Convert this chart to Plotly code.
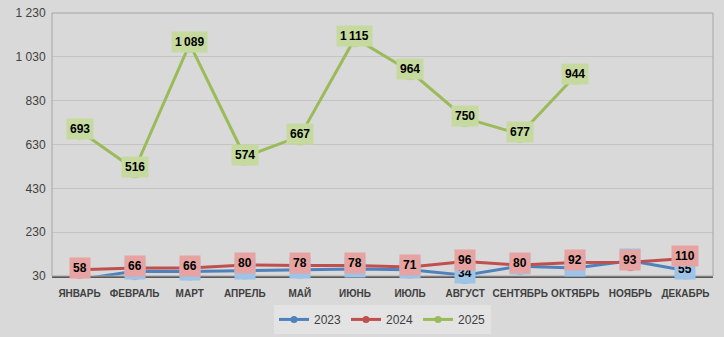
import plotly.graph_objects as go

months = ["ЯНВАРЬ", "ФЕВРАЛЬ", "МАРТ", "АПРЕЛЬ", "МАЙ", "ИЮНЬ", "ИЮЛЬ",
          "АВГУСТ", "СЕНТЯБРЬ", "ОКТЯБРЬ", "НОЯБРЬ", "ДЕКАБРЬ"]
v2023 = [14, 52, 50, 55, 58, 62, 58, 34, 75, 66, 99, 55]
v2024 = [58, 66, 66, 80, 78, 78, 71, 96, 80, 92, 93, 110]
v2025 = [693, 516, 1089, 574, 667, 1115, 964, 750, 677, 944, None, None]
ytick_vals = [30, 230, 430, 630, 830, 1030, 1230]
ytick_text = ["30", "230", "430", "630", "830", "1 030", "1 230"]

series = [
    ("2023", v2023, "#4F81BD", "#8DB4E2", "#9DC3E6"),
    ("2024", v2024, "#C0504D", "#D9807D", "#E6A3A1"),
    ("2025", v2025, "#9BBB59", "#B7CF88", "#C6DAA0"),
]

FONT = "Liberation Sans, Arial, sans-serif"
x = list(range(len(months)))
fig = go.Figure()
annotations = []
for name, vals, lc, mc, bc in series:
    fig.add_trace(go.Scatter(
        x=x, y=vals, name=name, mode="lines+markers",
        line=dict(color=lc, width=3),
        marker=dict(size=18, color=mc, line=dict(width=0)),
        cliponaxis=False, showlegend=False,
    ))
    for xi, v in zip(x, vals):
        if v is None:
            continue
        txt = f"{v:,}".replace(",", "\u2009")
        annotations.append(dict(
            x=xi, y=v, xref="x", yref="y", text=txt, showarrow=False,
            bgcolor=bc, borderpad=3, yshift=2,
            font=dict(family=FONT, size=12, color="#000000", weight="bold"),
        ))

for name, vals, lc, mc, bc in series:
    fig.add_trace(go.Scatter(
        x=[None], y=[None], name=name, mode="lines+markers",
        line=dict(color=lc, width=3),
        marker=dict(size=7, color=lc),
        showlegend=True,
    ))

fig.update_layout(
    width=724, height=337,
    margin=dict(l=52, r=11, t=13, b=61, autoexpand=False),
    paper_bgcolor="#D9D9D9", plot_bgcolor="#D9D9D9",
    showlegend=True,
    legend=dict(orientation="h", x=0.5, xanchor="center", y=-0.11, yanchor="top",
                bgcolor="#E3E3E3", font=dict(family=FONT, size=12, color="#404040"),
                itemwidth=30, tracegroupgap=0),
    annotations=annotations,
    shapes=[dict(type="rect", xref="paper", yref="paper", x0=0, y0=0, x1=1, y1=1,
                 line=dict(color="#A6A6A6", width=1))],
)
fig.update_xaxes(
    tickvals=x, ticktext=months, range=[-0.5, 11.5], showgrid=False,
    showline=True, linecolor="#595959", linewidth=2, zeroline=False,
    tickfont=dict(family=FONT, size=10, color="#404040", weight="bold"),
    ticks="outside", ticklen=7, tickcolor="rgba(0,0,0,0)", tickangle=0, automargin=False,
)
fig.update_yaxes(
    range=[30, 1230], tickvals=ytick_vals, ticktext=ytick_text,
    showgrid=True, gridcolor="#C4C4C4", gridwidth=1, zeroline=False,
    showline=False, ticks="outside", ticklen=3, tickcolor="rgba(0,0,0,0)", automargin=False,
    tickfont=dict(family=FONT, size=12, color="#404040"),
)
fig.write_html("out.html")
